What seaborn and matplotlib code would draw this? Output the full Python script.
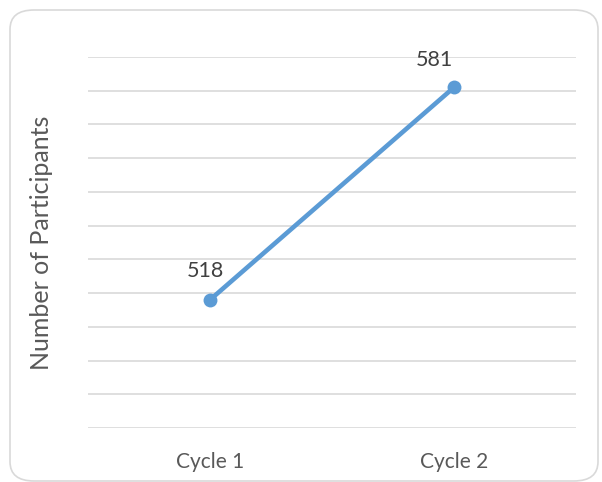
import matplotlib
matplotlib.use("Agg")
import matplotlib.pyplot as plt
import seaborn as sns
import pandas as pd
from matplotlib.patches import FancyBboxPatch

categories = ["Cycle 1", "Cycle 2"]
participants = [518, 581]
y_axis_title = "Number of Participants"

df = pd.DataFrame({"cycle": categories, "participants": participants})

sns.set_theme(style="white")
plt.rcParams["font.family"] = ["Lato", "DejaVu Sans"]

fig = plt.figure(figsize=(6.02, 4.82), dpi=100)
ax = fig.add_axes([88/602, 1-428/482, (576-88)/602, (428-57)/482])

frame = FancyBboxPatch((10/602, 1/482), 588/602, 471/482,
                       boxstyle="round,pad=0,rounding_size=0.04",
                       transform=fig.transFigure, facecolor="none",
                       edgecolor="#D9D9D9", linewidth=1.2, zorder=0)
fig.patches.append(frame)

color = "#5B9BD5"
sns.lineplot(data=df, x="cycle", y="participants", ax=ax, color=color,
             linewidth=3.3, marker="o", markersize=10, markeredgewidth=0,
             sort=False)

ax.set_ylim(480, 590)
ax.set_xlim(-0.5, 1.5)
ax.set_yticks(range(480, 591, 10))
ax.set_yticklabels([])
ax.tick_params(axis="y", length=0)
ax.tick_params(axis="x", length=0, pad=17, labelsize=15, labelcolor="#595959")
ax.grid(axis="y", color="#D9D9D9", linewidth=1.2)
ax.set_axisbelow(True)
for s in ax.spines.values():
    s.set_visible(False)
ax.set_xlabel("")
ax.set_ylabel(y_axis_title, fontsize=18, color="#595959", labelpad=22)

offsets = [(-3, 21), (-14, 20)]
for i, (c, v) in enumerate(zip(categories, participants)):
    ax.annotate(str(v), (i, v), xytext=offsets[i], textcoords="offset points",
                ha="center", va="center", fontsize=15.5, color="#404040")

fig.savefig("out.png", dpi=100)
